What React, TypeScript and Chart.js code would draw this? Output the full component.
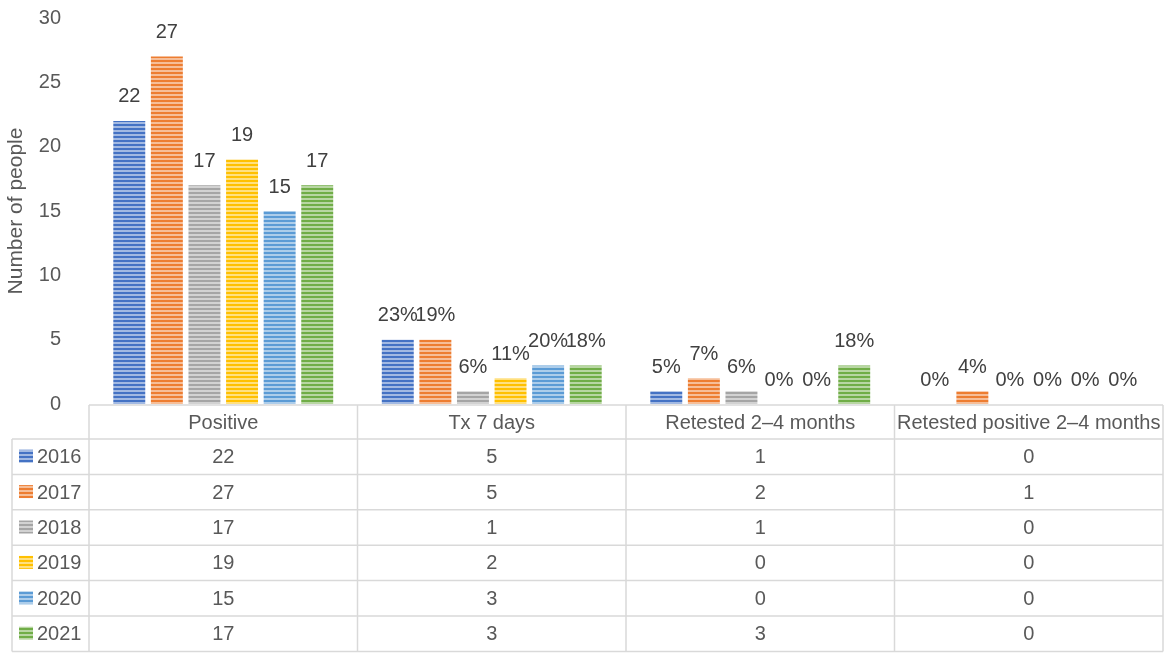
import React, { useEffect, useRef } from "react";
import { Chart, registerables } from "chart.js";

Chart.register(...registerables);

const categories = ["Positive", "Tx 7 days", "Retested 2–4 months", "Retested positive 2–4 months"];
const years = ["2016", "2017", "2018", "2019", "2020", "2021"];

const values2016 = [22, 5, 1, 0];
const values2017 = [27, 5, 2, 1];
const values2018 = [17, 1, 1, 0];
const values2019 = [19, 2, 0, 0];
const values2020 = [15, 3, 0, 0];
const values2021 = [17, 3, 3, 0];

const labels2016 = ["22", "23%", "5%", "0%"];
const labels2017 = ["27", "19%", "7%", "4%"];
const labels2018 = ["17", "6%", "6%", "0%"];
const labels2019 = ["19", "11%", "0%", "0%"];
const labels2020 = ["15", "20%", "0%", "0%"];
const labels2021 = ["17", "18%", "18%", "0%"];

const seriesValues = [values2016, values2017, values2018, values2019, values2020, values2021];
const seriesLabels = [labels2016, labels2017, labels2018, labels2019, labels2020, labels2021];
const seriesColors = ["#4472C4", "#ED7D31", "#A5A5A5", "#FFC000", "#5B9BD5", "#70AD47"];

const yTitle = "Number of people";
const FONT = "'Liberation Sans', Arial, sans-serif";

function tint(hex: string, amt: number) {
  const n = parseInt(hex.slice(1), 16);
  const r = (n >> 16) & 255, g = (n >> 8) & 255, b = n & 255;
  const m = (c: number) => Math.round(c + (255 - c) * amt);
  return `rgb(${m(r)},${m(g)},${m(b)})`;
}

function makePattern(color: string): CanvasPattern | string {
  const c = document.createElement("canvas");
  c.width = 4;
  c.height = 4;
  const g = c.getContext("2d");
  if (!g) return color;
  g.fillStyle = tint(color, 0.5);
  g.fillRect(0, 0, 4, 4);
  g.fillStyle = color;
  g.fillRect(0, 0, 4, 2);
  return g.createPattern(c, "repeat") || color;
}

export default function App() {
  const ref = useRef<HTMLCanvasElement | null>(null);

  useEffect(() => {
    if (!ref.current) return;
    const patterns = seriesColors.map((c) => makePattern(c));

    const labelPlugin = {
      id: "barLabels",
      afterDatasetsDraw(chart: any) {
        const ctx = chart.ctx;
        ctx.save();
        ctx.font = `20px ${FONT}`;
        ctx.fillStyle = "#404040";
        ctx.textAlign = "center";
        ctx.textBaseline = "middle";
        chart.data.datasets.forEach((_ds: any, di: number) => {
          const meta = chart.getDatasetMeta(di);
          meta.data.forEach((el: any, i: number) => {
            ctx.fillText(seriesLabels[di][i], el.x, el.y - 24);
          });
        });
        ctx.restore();
      },
    };

    const tablePlugin = {
      id: "dataTable",
      afterDraw(chart: any) {
        const ctx = chart.ctx;
        const { left, right, bottom } = chart.chartArea;
        const n = categories.length;
        const colW = (right - left) / n;
        const top = bottom + 1;
        const headerH = 34;
        const rowH = 35.4;
        const legLeft = 12;
        const tableBottom = top + headerH + rowH * years.length;
        ctx.save();
        ctx.strokeStyle = "#D9D9D9";
        ctx.lineWidth = 1.5;
        const line = (x1: number, y1: number, x2: number, y2: number) => {
          ctx.beginPath();
          ctx.moveTo(x1, y1);
          ctx.lineTo(x2, y2);
          ctx.stroke();
        };
        line(left, top, right, top);
        for (let r = 0; r <= years.length; r++) {
          const y = top + headerH + r * rowH;
          line(legLeft, y, right, y);
        }
        line(legLeft, top + headerH, legLeft, tableBottom);
        for (let i = 0; i <= n; i++) {
          const x = left + i * colW;
          line(x, top, x, tableBottom);
        }
        ctx.font = `20px ${FONT}`;
        ctx.fillStyle = "#595959";
        ctx.textBaseline = "middle";
        ctx.textAlign = "center";
        categories.forEach((c, i) => {
          ctx.fillText(c, left + (i + 0.5) * colW, top + headerH / 2 + 1);
        });
        years.forEach((yr, r) => {
          const cy = top + headerH + (r + 0.5) * rowH;
          ctx.fillStyle = patterns[r] as any;
          ctx.fillRect(legLeft + 7, cy - 7, 14, 13);
          ctx.fillStyle = "#595959";
          ctx.textAlign = "left";
          ctx.fillText(yr, legLeft + 25, cy + 1);
          ctx.textAlign = "center";
          seriesValues[r].forEach((v, i) => {
            ctx.fillText(String(v), left + (i + 0.5) * colW, cy + 1);
          });
        });
        ctx.restore();
      },
    };

    const chart = new Chart(ref.current, {
      type: "bar",
      data: {
        labels: categories,
        datasets: years.map((yr, i) => ({
          label: yr,
          data: seriesValues[i],
          backgroundColor: patterns[i] as any,
          borderWidth: 0,
          categoryPercentage: 0.84,
          barPercentage: 0.85,
        })),
      },
      options: {
        responsive: false,
        animation: false,
        devicePixelRatio: 1,
        layout: { padding: { left: 0, right: 6, top: 0, bottom: 256 } },
        plugins: {
          legend: { display: false },
          tooltip: { enabled: false },
          title: { display: false },
        },
        scales: {
          x: {
            display: false,
            offset: true,
            grid: { display: false },
          },
          y: {
            min: 0,
            max: 30,
            grid: { display: false },
            border: { display: false },
            ticks: {
              stepSize: 5,
              padding: 20,
              color: "#595959",
              font: { family: FONT, size: 20 },
            },
            title: {
              display: true,
              text: yTitle,
              color: "#595959",
              font: { family: FONT, size: 21 },
              padding: { top: 4, bottom: 0 },
            },
            afterFit(scale: any) {
              scale.width = 89;
              scale.paddingTop = 18;
              scale.paddingBottom = 12;
            },
          },
        },
      },
      plugins: [labelPlugin, tablePlugin],
    });
    return () => chart.destroy();
  }, []);

  return (
    <div style={{ position: "fixed", left: 0, top: 0, width: 1169, height: 660, background: "#fff" }}>
      <canvas ref={ref} width={1169} height={660} style={{ width: 1169, height: 660 }} />
    </div>
  );
}
